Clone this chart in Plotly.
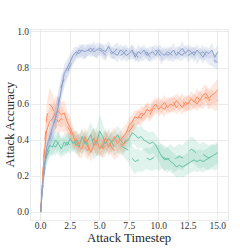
import plotly.graph_objects as go

timesteps = [i * 0.25 for i in range(61)]

blue_solid = [0.00, 0.22, 0.36, 0.42, 0.47, 0.52, 0.59, 0.68, 0.77, 0.80,
              0.84, 0.87, 0.89, 0.88, 0.90, 0.89, 0.90, 0.91, 0.89, 0.90,
              0.91, 0.90, 0.89, 0.92, 0.89, 0.88, 0.87, 0.90, 0.89, 0.87,
              0.88, 0.90, 0.86, 0.89, 0.88, 0.90, 0.87, 0.88, 0.89, 0.87,
              0.90, 0.88, 0.87, 0.89, 0.88, 0.90, 0.87, 0.89, 0.91, 0.88,
              0.90, 0.89, 0.87, 0.90, 0.88, 0.86, 0.89, 0.88, 0.90, 0.86,
              0.89]
blue_dashed = [0.00, 0.20, 0.33, 0.40, 0.45, 0.52, 0.61, 0.70, 0.74, 0.78,
               0.82, 0.85, 0.87, 0.90, 0.89, 0.88, 0.90, 0.89, 0.91, 0.88,
               0.90, 0.89, 0.87, 0.90, 0.88, 0.89, 0.91, 0.87, 0.88, 0.90,
               0.87, 0.89, 0.88, 0.86, 0.88, 0.87, 0.89, 0.86, 0.88, 0.90,
               0.88, 0.86, 0.89, 0.87, 0.88, 0.86, 0.89, 0.88, 0.87, 0.90,
               0.87, 0.88, 0.89, 0.86, 0.88, 0.89, 0.87, 0.86, 0.85, 0.84,
               0.83]
orange_solid = [0.00, 0.28, 0.45, 0.50, 0.52, 0.55, 0.56, 0.54, 0.55, 0.50,
                0.47, 0.42, 0.38, 0.36, 0.35, 0.42, 0.38, 0.33, 0.37, 0.40,
                0.35, 0.38, 0.41, 0.36, 0.39, 0.42, 0.38, 0.40, 0.42, 0.44,
                0.48, 0.50, 0.53, 0.52, 0.55, 0.54, 0.57, 0.56, 0.58, 0.60,
                0.57, 0.59, 0.61, 0.58, 0.60, 0.59, 0.62, 0.60, 0.58, 0.61,
                0.60, 0.63, 0.61, 0.64, 0.62, 0.65, 0.66, 0.63, 0.65, 0.66,
                0.68]
orange_dashed = [0.00, 0.30, 0.52, 0.60, 0.58, 0.53, 0.50, 0.52, 0.50, 0.48,
                 0.45, 0.40, 0.41, 0.38, 0.40, 0.36, 0.34, 0.39, 0.41, 0.36,
                 0.38, 0.35, 0.37, 0.40, 0.36, 0.34, 0.36, 0.38, 0.37, 0.41,
                 0.45, 0.47, 0.50, 0.53, 0.52, 0.55, 0.56, 0.54, 0.57, 0.58,
                 0.60, 0.58, 0.57, 0.60, 0.59, 0.61, 0.58, 0.60, 0.62, 0.59,
                 0.61, 0.60, 0.62, 0.60, 0.63, 0.61, 0.64, 0.62, 0.63, 0.61,
                 0.62]
green_solid = [0.00, 0.22, 0.33, 0.37, 0.36, 0.40, 0.38, 0.35, 0.39, 0.37,
               0.41, 0.38, 0.40, 0.36, 0.42, 0.38, 0.40, 0.43, 0.37, 0.39,
               0.45, 0.42, 0.38, 0.41, 0.39, 0.40, 0.43, 0.40, 0.38, 0.39,
               0.41, 0.44, 0.43, 0.41, 0.42, 0.40, 0.39, 0.38, 0.39, 0.37,
               0.34, 0.31, 0.29, 0.30, 0.28, 0.27, 0.25, 0.26, 0.25, 0.26,
               0.27, 0.28, 0.29, 0.28, 0.29, 0.28, 0.29, 0.30, 0.31, 0.32,
               0.33]
green_dashed = [0.00, 0.20, 0.31, 0.35, 0.38, 0.36, 0.39, 0.37, 0.36, 0.39,
                0.37, 0.40, 0.37, 0.39, 0.37, 0.40, 0.36, 0.38, 0.41, 0.37,
                0.39, 0.36, 0.40, 0.37, 0.39, 0.36, 0.38, 0.37, 0.36, 0.35,
                0.34, 0.30, 0.28, 0.29, 0.28, 0.29, 0.30, 0.29, 0.30, 0.31,
                0.30, 0.31, 0.30, 0.29, 0.31, 0.29, 0.30, 0.31, 0.30, 0.32,
                0.33, 0.35, 0.34, 0.32, 0.31, 0.32, 0.31, 0.30, 0.31, 0.30,
                0.31]

# band half-widths (std)
blue_solid_sd = [0.00, 0.03, 0.05, 0.06, 0.06, 0.07, 0.07, 0.06, 0.05, 0.05,
                 0.04, 0.04, 0.03, 0.03, 0.03, 0.04, 0.03, 0.03, 0.03, 0.04,
                 0.03, 0.03, 0.04, 0.03, 0.03, 0.03, 0.04, 0.03, 0.03, 0.04,
                 0.03, 0.03, 0.03, 0.04, 0.03, 0.03, 0.03, 0.04, 0.03, 0.03,
                 0.03, 0.04, 0.03, 0.03, 0.03, 0.04, 0.03, 0.03, 0.04, 0.03,
                 0.03, 0.03, 0.04, 0.03, 0.03, 0.04, 0.03, 0.03, 0.04, 0.04,
                 0.04]
blue_dashed_sd = [0.00, 0.03, 0.05, 0.05, 0.06, 0.07, 0.06, 0.06, 0.05, 0.04,
                  0.04, 0.03, 0.03, 0.03, 0.04, 0.03, 0.03, 0.03, 0.04, 0.03,
                  0.03, 0.04, 0.03, 0.03, 0.03, 0.04, 0.03, 0.03, 0.04, 0.03,
                  0.03, 0.04, 0.03, 0.03, 0.04, 0.03, 0.03, 0.03, 0.04, 0.03,
                  0.03, 0.04, 0.03, 0.03, 0.04, 0.03, 0.03, 0.04, 0.03, 0.03,
                  0.04, 0.03, 0.03, 0.04, 0.03, 0.04, 0.03, 0.04, 0.04, 0.04,
                  0.04]
orange_solid_sd = [0.00, 0.05, 0.07, 0.08, 0.08, 0.09, 0.08, 0.07, 0.07, 0.06,
                   0.06, 0.05, 0.05, 0.06, 0.05, 0.05, 0.06, 0.05, 0.05, 0.06,
                   0.05, 0.05, 0.06, 0.05, 0.06, 0.05, 0.05, 0.05, 0.05, 0.05,
                   0.05, 0.04, 0.04, 0.04, 0.04, 0.04, 0.04, 0.04, 0.04, 0.04,
                   0.04, 0.04, 0.04, 0.04, 0.04, 0.04, 0.04, 0.04, 0.04, 0.04,
                   0.04, 0.04, 0.04, 0.05, 0.04, 0.05, 0.05, 0.05, 0.05, 0.06,
                   0.06]
orange_dashed_sd = [0.00, 0.05, 0.08, 0.09, 0.08, 0.07, 0.07, 0.07, 0.06, 0.06,
                    0.05, 0.05, 0.05, 0.05, 0.06, 0.05, 0.05, 0.05, 0.06, 0.05,
                    0.05, 0.05, 0.06, 0.05, 0.05, 0.05, 0.06, 0.05, 0.05, 0.05,
                    0.05, 0.04, 0.04, 0.04, 0.04, 0.04, 0.04, 0.04, 0.04, 0.04,
                    0.04, 0.04, 0.04, 0.04, 0.04, 0.04, 0.04, 0.04, 0.04, 0.04,
                    0.04, 0.04, 0.04, 0.04, 0.05, 0.04, 0.05, 0.05, 0.05, 0.05,
                    0.05]
green_solid_sd = [0.00, 0.04, 0.05, 0.05, 0.05, 0.05, 0.06, 0.05, 0.05, 0.05,
                  0.05, 0.05, 0.05, 0.06, 0.05, 0.05, 0.06, 0.07, 0.08, 0.08,
                  0.09, 0.07, 0.06, 0.05, 0.05, 0.05, 0.05, 0.06, 0.05, 0.05,
                  0.05, 0.06, 0.06, 0.06, 0.06, 0.06, 0.06, 0.06, 0.06, 0.06,
                  0.06, 0.06, 0.06, 0.06, 0.06, 0.06, 0.06, 0.06, 0.06, 0.06,
                  0.06, 0.06, 0.06, 0.06, 0.06, 0.06, 0.06, 0.06, 0.06, 0.06,
                  0.06]
green_dashed_sd = [0.00, 0.04, 0.05, 0.05, 0.05, 0.05, 0.05, 0.05, 0.05, 0.05,
                   0.05, 0.05, 0.05, 0.05, 0.05, 0.05, 0.05, 0.06, 0.06, 0.06,
                   0.07, 0.06, 0.05, 0.05, 0.05, 0.05, 0.05, 0.05, 0.05, 0.06,
                   0.07, 0.07, 0.07, 0.06, 0.06, 0.06, 0.06, 0.06, 0.07, 0.07,
                   0.07, 0.07, 0.07, 0.07, 0.07, 0.07, 0.07, 0.07, 0.07, 0.07,
                   0.07, 0.07, 0.07, 0.07, 0.07, 0.07, 0.07, 0.07, 0.07, 0.07,
                   0.07]

GREEN = "#66c2a5"
ORANGE = "#fc8d62"
BLUE = "#8da0cb"
FILLS = {GREEN: "rgba(102,194,165,0.2)", ORANGE: "rgba(252,141,98,0.2)",
         BLUE: "rgba(141,160,203,0.2)"}

series = [
    (green_solid, green_solid_sd, GREEN, "solid"),
    (green_dashed, green_dashed_sd, GREEN, "dash"),
    (orange_solid, orange_solid_sd, ORANGE, "solid"),
    (orange_dashed, orange_dashed_sd, ORANGE, "dash"),
    (blue_solid, blue_solid_sd, BLUE, "solid"),
    (blue_dashed, blue_dashed_sd, BLUE, "dash"),
]

fig = go.Figure()
for vals, sd, col, dash in series:
    upper = [v + s for v, s in zip(vals, sd)]
    lower = [v - s for v, s in zip(vals, sd)]
    fig.add_trace(go.Scatter(x=timesteps + timesteps[::-1], y=upper + lower[::-1],
                             fill="toself", fillcolor=FILLS[col],
                             line=dict(width=0), mode="lines",
                             hoverinfo="skip", showlegend=False))
for vals, sd, col, dash in series:
    fig.add_trace(go.Scatter(x=timesteps, y=vals, mode="lines",
                             line=dict(color=col, width=1.0, dash=dash),
                             showlegend=False))

axis_common = dict(showgrid=True, gridcolor="#ebebeb", gridwidth=1,
                   showline=True, linecolor="#ebebeb", linewidth=1, mirror=True,
                   zeroline=False, ticks="", automargin=False,
                   tickfont=dict(size=9.5, color="#333333"))

PLOT_W = 240 - 31 - 12
PLOT_H = 252 - 30 - 32

fig.update_layout(
    width=240, height=252,
    margin=dict(l=31, r=12, t=30, b=32),
    paper_bgcolor="white", plot_bgcolor="white",
    font=dict(family="Liberation Serif", color="#262626"),
    xaxis=dict(range=[-0.82, 15.87], tickvals=[0, 2.5, 5, 7.5, 10, 12.5, 15],
               ticktext=["0.0", "2.5", "5.0", "7.5", "10.0", "12.5", "15.0"],
               ticklabelstandoff=-3, **axis_common),
    yaxis=dict(range=[-0.044, 1.011], tickvals=[0, 0.2, 0.4, 0.6, 0.8, 1.0],
               ticktext=["0.0", "0.2", "0.4", "0.6", "0.8", "1.0"],
               ticklabelstandoff=-1, **axis_common),
    annotations=[
        dict(text="Attack Timestep", x=(129 - 31) / PLOT_W, xref="paper",
             y=-(238 - 220) / PLOT_H, yref="paper", yanchor="middle",
             showarrow=False, font=dict(size=12.8, color="#262626")),
        dict(text="Attack Accuracy", textangle=-90,
             x=-(31 - 9.5) / PLOT_W, xref="paper", xanchor="center",
             y=0.5, yref="paper", yanchor="middle",
             showarrow=False, font=dict(size=12.8, color="#262626")),
    ],
)

fig.write_html("out.html", config={"displayModeBar": False},
               post_script="document.body.style.margin='0';document.body.style.overflow='hidden';")
